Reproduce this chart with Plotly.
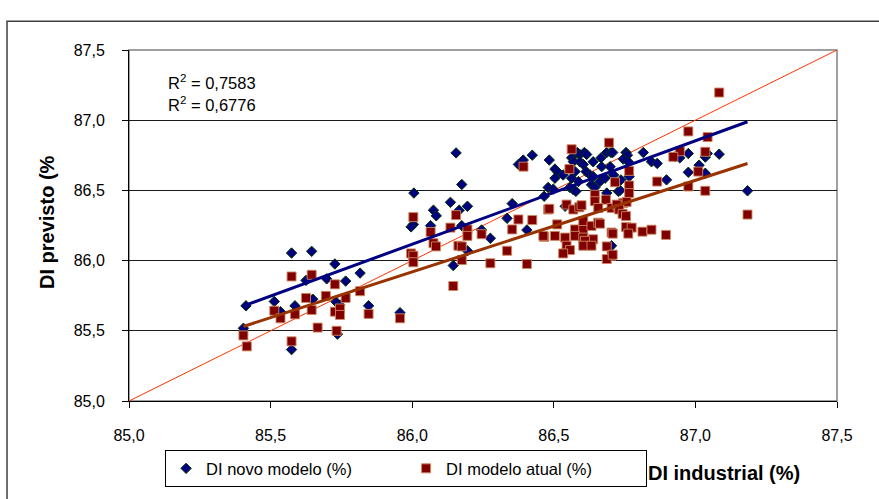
import numpy as np
import plotly.graph_objects as go

# DI novo modelo (%): industrial DI (x) vs. predicted DI (y)
novo_industrial = [
    85.404, 85.413, 85.513, 85.535, 85.574, 85.645, 85.625, 85.586, 85.649, 85.574,
    85.727, 85.698, 85.731, 85.736, 85.745, 85.765, 85.816, 85.846, 85.957,
    86.006, 86.004, 85.996, 86.065, 86.075, 86.085, 86.155, 86.175, 86.135, 86.166,
    86.195, 86.175, 86.245, 86.276, 86.195, 86.145, 86.335, 86.353, 86.405, 86.375,
    86.392, 86.424, 86.466, 86.480,
    86.484, 86.504, 86.516, 86.533, 86.563, 86.569, 86.583, 86.592, 86.608, 86.616,
    86.592, 86.604, 86.639, 86.667, 86.687, 86.702, 86.669, 86.614, 86.628, 86.639,
    86.560, 86.575, 86.504, 86.563, 86.587, 86.663, 86.681, 86.557, 86.569, 86.578,
    86.633, 86.645, 86.687, 86.728, 86.498, 86.540, 86.704,
    86.708, 86.755, 86.760, 86.745, 86.763, 86.816, 86.845, 86.865, 86.928, 86.945,
    86.975, 87.013, 86.975, 86.699, 86.711, 86.737, 86.766, 86.898, 86.734, 87.084,
    87.035, 87.042, 87.035, 87.184,
]
novo_previsto = [
    85.518, 85.678, 85.709, 85.636, 86.054, 86.066, 85.859, 85.678, 85.725, 85.366,
    85.976, 85.870, 85.706, 85.476, 85.683, 85.854, 85.911, 85.678, 85.629,
    86.481, 86.258, 86.240, 86.249, 86.359, 86.319, 86.767, 86.542, 86.415, 86.359,
    86.387, 86.249, 86.218, 86.159, 86.070, 85.965, 86.301, 86.406, 86.218, 86.685,
    86.716, 86.751, 86.458, 86.521,
    86.716, 86.652, 86.627, 86.610, 86.732, 86.704, 86.770, 86.756, 86.770, 86.756,
    86.704, 86.685, 86.704, 86.732, 86.770, 86.770, 86.669, 86.634, 86.610, 86.599,
    86.650, 86.634, 86.587, 86.587, 86.563, 86.563, 86.587, 86.521, 86.505, 86.493,
    86.540, 86.521, 86.481, 86.493, 86.509, 86.387, 86.106,
    86.770, 86.770, 86.751, 86.723, 86.704, 86.770, 86.704, 86.692, 86.739, 86.732,
    86.763, 86.680, 86.629, 86.669, 86.610, 86.575, 86.599, 86.575, 86.500, 86.758,
    86.737, 86.763, 86.622, 86.497,
]

# DI modelo atual (%): industrial DI (x) vs. predicted DI (y)
atual_industrial = [
    85.404, 85.416, 85.513, 85.535, 85.574, 85.645, 85.625, 85.586, 85.645, 85.574,
    85.666, 85.695, 85.727, 85.727, 85.733, 85.745, 85.745, 85.765, 85.816, 85.846,
    85.957,
    86.004, 86.065, 86.075, 86.084, 85.996, 86.004, 86.004, 86.155, 86.135, 86.195,
    86.195, 86.163, 86.175, 86.175, 86.145, 86.245, 86.276, 86.335, 86.353, 86.375,
    86.405, 86.424, 86.393, 86.480, 86.466, 86.512,
    86.695, 86.563, 86.555, 86.716, 86.484, 86.545, 86.569, 86.590, 86.598, 86.645,
    86.645, 86.684, 86.657, 86.704, 86.728, 86.463, 86.504, 86.540, 86.575, 86.604,
    86.575, 86.604, 86.604, 86.633, 86.657, 86.639, 86.610, 86.545, 86.557, 86.533,
    86.604, 86.633, 86.687, 86.704, 86.687, 86.704, 86.663,
    86.975, 86.945, 86.922, 86.766, 86.865, 86.766, 86.766, 86.975, 87.010, 86.745,
    86.757, 86.722, 86.731, 86.743, 86.755, 86.755, 86.775, 86.763, 86.708, 86.813,
    86.845, 86.896, 86.708, 87.084, 87.043, 87.035, 87.035, 87.184,
]
atual_previsto = [
    85.467, 85.389, 85.643, 85.589, 85.887, 85.899, 85.734, 85.617, 85.648, 85.425,
    85.523, 85.749, 85.831, 85.636, 85.500, 85.659, 85.613, 85.734, 85.782, 85.620,
    85.589,
    86.310, 86.204, 86.124, 86.101, 86.051, 86.035, 85.988, 86.324, 86.235, 86.222,
    86.176, 86.106, 86.101, 86.004, 85.819, 86.188, 85.981, 86.070, 86.222, 86.293,
    85.976, 86.289, 86.669, 86.364, 86.169, 86.258,
    86.840, 86.793, 86.652, 86.558, 86.369, 86.399, 86.364, 86.380, 86.394, 86.469,
    86.423, 86.434, 86.375, 86.375, 86.375, 86.176, 86.176, 86.164, 86.222, 86.222,
    86.176, 86.164, 86.282, 86.247, 86.270, 86.152, 86.141, 86.106, 86.075, 86.051,
    86.106, 86.106, 86.101, 86.035, 86.011, 86.200, 86.263,
    86.920, 86.779, 86.739, 86.639, 86.563, 86.535, 86.481, 86.528, 86.634, 86.411,
    86.418, 86.399, 86.364, 86.333, 86.317, 86.239, 86.235, 86.192, 86.192, 86.206,
    86.220, 86.183, 86.042, 87.197, 86.880, 86.775, 86.497, 86.328,
]

axis_ticks = [85.0, 85.5, 86.0, 86.5, 87.0, 87.5]
identity_x = [85.0, 87.5]
identity_y = [85.0, 87.5]
r2_labels = ["R<sup>2</sup> = 0,7583", "R<sup>2</sup> = 0,6776"]

FONT = "Liberation Sans, Arial, sans-serif"


def linear_trend(x, y):
    """Least-squares line spanning the x extent of a series."""
    slope, intercept = np.polyfit(x, y, 1)
    xs = np.array([min(x), max(x)])
    return xs, slope * xs + intercept


fig = go.Figure()

# y = x reference line
fig.add_trace(go.Scatter(
    x=identity_x, y=identity_y, mode="lines",
    line=dict(color="#FF3300", width=1), showlegend=False, hoverinfo="skip",
))

fig.add_trace(go.Scatter(
    x=novo_industrial, y=novo_previsto, mode="markers", name="DI novo modelo (%)",
    marker=dict(symbol="diamond", size=8, color="#000080",
                line=dict(color="#003300", width=1)),
))
fig.add_trace(go.Scatter(
    x=atual_industrial, y=atual_previsto, mode="markers", name="DI modelo atual (%)",
    marker=dict(symbol="square", size=9, color="#800000",
                line=dict(color="rgba(205,135,95,0.9)", width=1)),
))

tx, ty = linear_trend(novo_industrial, novo_previsto)
fig.add_trace(go.Scatter(x=tx, y=ty, mode="lines", line=dict(color="#000080", width=3),
                         showlegend=False, hoverinfo="skip"))
tx, ty = linear_trend(atual_industrial, atual_previsto)
fig.add_trace(go.Scatter(x=tx, y=ty, mode="lines", line=dict(color="#993300", width=3),
                         showlegend=False, hoverinfo="skip"))

axis_common = dict(
    range=[85.0, 87.5], tickvals=axis_ticks, tickformat=".1f",
    ticks="outside", ticklen=6, tickcolor="black", tickwidth=1,
    showline=True, linecolor="black", linewidth=1, zeroline=False,
    tickfont=dict(family=FONT, size=16, color="black"),
)

fig.update_layout(
    width=879, height=499,
    margin=dict(l=129, r=42, t=50, b=94),
    paper_bgcolor="white", plot_bgcolor="white",
    separators=",.",
    font=dict(family=FONT, color="black"),
    xaxis=dict(**axis_common, showgrid=False, ticklabelstandoff=14),
    yaxis=dict(**axis_common, showgrid=True, gridcolor="#1a1a1a", gridwidth=1,
               ticklabelstandoff=14),
    legend=dict(
        orientation="h", x=0.051, y=-0.14, xanchor="left", yanchor="top",
        bordercolor="black", borderwidth=1, bgcolor="white",
        font=dict(family=FONT, size=16.5, color="black"),
        entrywidth=195, itemwidth=30,
    ),
    shapes=[
        # plot area frame
        dict(type="rect", xref="paper", yref="paper", x0=0, y0=0, x1=1, y1=1,
             line=dict(color="#808080", width=1.5), layer="below"),
        # chart area frame
        dict(type="rect", xref="paper", yref="paper", x0=-0.1723, y0=-0.3, x1=1.062, y1=1.0816,
             line=dict(color="#404040", width=1.5)),
    ],
    annotations=[
        dict(text=r2_labels[0], xref="paper", yref="paper", x=0.0523, y=0.91,
             xanchor="left", yanchor="middle", showarrow=False,
             font=dict(family=FONT, size=16.5)),
        dict(text=r2_labels[1], xref="paper", yref="paper", x=0.0523, y=0.845,
             xanchor="left", yanchor="middle", showarrow=False,
             font=dict(family=FONT, size=16.5)),
        dict(text="<b>DI industrial (%)</b>", xref="paper", yref="paper", x=0.84, y=-0.205,
             xanchor="center", yanchor="middle", showarrow=False,
             font=dict(family=FONT, size=20)),
        dict(text="<b>DI previsto (%</b>", xref="paper", yref="paper", x=-0.1158, y=0.51,
             xanchor="center", yanchor="middle", showarrow=False, textangle=-90,
             font=dict(family=FONT, size=20)),
    ],
)

fig.write_html("out.html")
